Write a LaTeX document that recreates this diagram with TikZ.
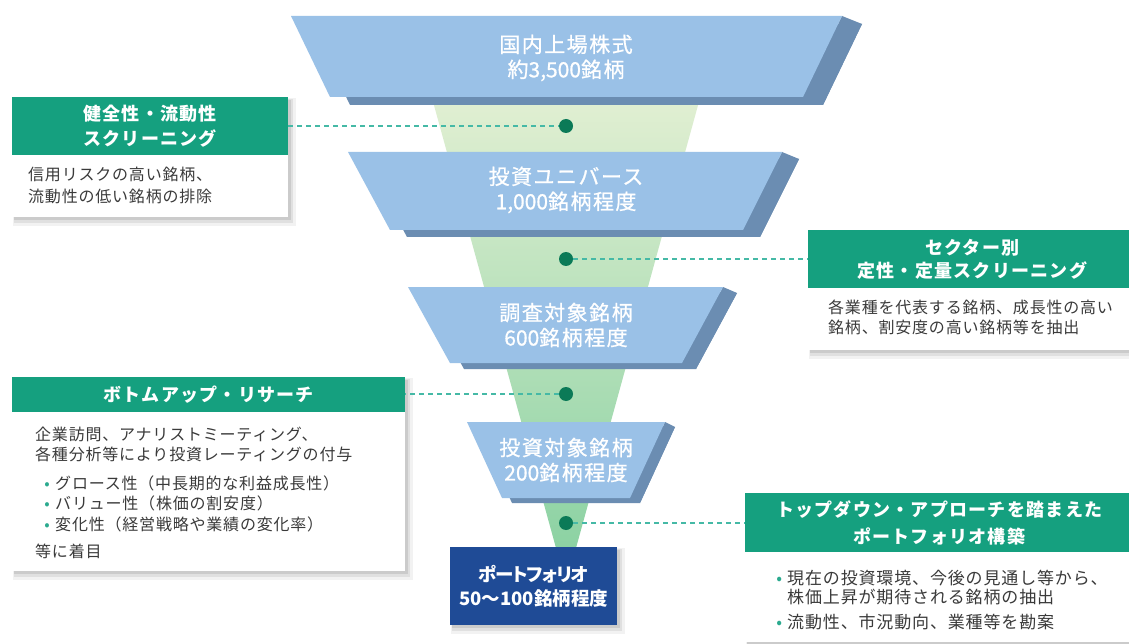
\documentclass[tikz,border=0pt]{standalone}
\usepackage{fontspec}
\newfontfamily\jpfont[LetterSpace=5]{Noto Sans CJK JP}
\newfontfamily\jptrap[LetterSpace=7,FakeBold=0.8]{Noto Sans CJK JP}
\newfontfamily\jpdig[FakeBold=0.8]{Noto Sans CJK JP}
\newfontfamily\jphdr[LetterSpace=7]{Noto Sans CJK JP}
\newfontfamily\jppal[RawFeature=+palt]{Noto Sans CJK JP}
\newfontfamily\jppaltight[RawFeature=+palt,LetterSpace=-6]{Noto Sans CJK JP}
\definecolor{faceblue}{HTML}{9AC1E7}
\definecolor{sideblue}{HTML}{6B8DB2}
\definecolor{hdrgreen}{HTML}{15A07F}
\definecolor{dotgreen}{HTML}{0B7A57}
\definecolor{dashgreen}{HTML}{45B9A6}
\definecolor{navyblue}{HTML}{1F4B96}
\definecolor{bodytext}{HTML}{3A3A3A}
\definecolor{bulgreen}{HTML}{2BAA8F}
\definecolor{funtop}{HTML}{E1EFD2}
\definecolor{funmid}{HTML}{C4E3B6}
\definecolor{funbot}{HTML}{8CD2A3}
\newcommand\trapbox[8]{%
  \fill[sideblue] (#1+#7,#5+#8) -- (#2+#7,#5+#8) -- (#4+#7,#6+#8) -- (#3+#7,#6+#8) -- cycle;
  \fill[sideblue] (#2,#5) -- (#2+#7,#5+#8) -- (#4+#7,#6+#8) -- (#4,#6) -- cycle;
  \fill[faceblue] (#1,#5) -- (#2,#5) -- (#4,#6) -- (#3,#6) -- cycle;
}
\newcommand\boxshadow[4]{%
  \fill[black,opacity=0.05] (#1+1,#2+1) rectangle (#3+8,#4+9);
  \fill[black,opacity=0.07] (#1+2,#2+2) rectangle (#3+5,#4+6);
  \fill[black,opacity=0.09] (#1+2,#2+3) rectangle (#3+3,#4+3);
}
\newcommand\dg[1]{{\jpdig #1}}
\newcommand\bul{\hspace*{4pt}\makebox[16pt][c]{\textcolor{bulgreen}{•}}}
\newcommand\bulb{\makebox[16pt][c]{\textcolor{bulgreen}{•}}}
\tikzset{
  hdr/.style={fill=hdrgreen, text=white, font=\jphdr\bfseries\fontsize{18}{25}\selectfont, align=center, inner sep=0pt, anchor=north west},
  bodybox/.style={fill=white, inner sep=0pt, anchor=north west},
  bodytxt/.style={text=bodytext, font=\jpfont\fontsize{16}{19.5}\selectfont, align=left, inner sep=0pt, anchor=north west},
  traptxt/.style={text=white, font=\jptrap\fontsize{21}{25}\selectfont, align=center, inner sep=0pt},
  dotn/.style={circle, fill=dotgreen, minimum size=14pt, inner sep=0pt},
  dashline/.style={draw=dashgreen, line width=1.5pt, dash pattern=on 5pt off 4pt},
  pfbox/.style={fill=navyblue, text=white, font=\jppal\bfseries\fontsize{18.5}{24}\selectfont, align=center, inner sep=0pt, anchor=north west},
}
\begin{document}
\begin{tikzpicture}[x=1pt,y=-1pt]
\useasboundingbox[fill=white] (0,0) rectangle (1129,644);
% funnel background
\shade[top color=funtop, middle color=funmid, bottom color=funbot] (432,98) -- (700,98) -- (576,548) -- (556,548) -- cycle;
% trapezoids
\trapbox{291}{842}{330}{803}{16}{97}{20}{8}
\node[traptxt] (t1) at (566,58) {国内上場株式\\約\dg{3,500}銘柄};
\trapbox{348}{782}{390}{743}{152}{230}{17}{7}
\node[traptxt] (t2) at (566,190) {投資ユニバース\\\dg{1,000}銘柄程度};
\trapbox{408}{723}{450}{682}{287}{363}{14}{6}
\node[traptxt] (t3) at (566,325) {調査対象銘柄\\\dg{600}銘柄程度};
\trapbox{467}{665}{502}{630}{422}{498}{10}{5}
\node[traptxt] (t4) at (566,460) {投資対象銘柄\\\dg{200}銘柄程度};
% portfolio
\boxshadow{450}{547}{617}{625}
\node[pfbox, minimum width=167pt, minimum height=78pt] (pf) at (450,547) {{\jppaltight\bfseries ポートフォリオ}\\50～100銘柄程度};
% dots
\node[dotn] (d1) at (566,126) {};
\node[dotn] (d2) at (566,259) {};
\node[dotn] (d3) at (566,394) {};
\node[dotn] (d4) at (566,523) {};
% left box 1
\boxshadow{12}{97}{288}{217}
\node[hdr, minimum width=276pt, minimum height=58pt] (h1) at (12,97) {健全性・流動性\\スクリーニング};
\node[bodybox, minimum width=276pt, minimum height=62pt] (b1) at (12,155) {};
\node[bodytxt, font=\jpfont\fontsize{16}{22}\selectfont] (bt1) at (28,167) {信用リスクの高い銘柄、\\流動性の低い銘柄の排除};
% right box 1
\boxshadow{808}{230}{1136}{350}
\node[hdr, minimum width=328pt, minimum height=58pt, font=\jphdr\bfseries\fontsize{18}{23}\selectfont] (h2) at (808,230) {セクター別\\定性・定量スクリーニング};
\node[bodybox, minimum width=328pt, minimum height=62pt] (b2) at (808,288) {};
\node[bodytxt] (bt2) at (828,300) {各業種を代表する銘柄、成長性の高い\\銘柄、割安度の高い銘柄等を抽出};
% left box 2
\boxshadow{12}{377}{405}{571}
\node[hdr, minimum width=393pt, minimum height=35pt] (h3) at (12,377) {ボトムアップ・リサーチ};
\node[bodybox, minimum width=393pt, minimum height=159pt] (b3) at (12,412) {};
\node[bodytxt, font=\jpfont\fontsize{16}{20.5}\selectfont] (bt3) at (35,426.5) {企業訪問、アナリストミーティング、\\各種分析等により投資レーティングの付与\\[8pt]\bul グロース性（中長期的な利益成長性）\\\bul バリュー性（株価の割安度）\\\bul 変化性（経営戦略や業績の変化率）\\[7pt]等に着目};
% right box 2
\boxshadow{745}{493}{1133}{642}
\node[hdr, minimum width=388pt, minimum height=59pt, font=\jphdr\bfseries\fontsize{18}{27}\selectfont] (h4) at (745,493) {トップダウン・アプローチを踏まえた\\ポートフォリオ構築};
\node[bodybox, minimum width=388pt, minimum height=90pt] (b4) at (745,552) {};
\node[bodytxt, font=\jpfont\fontsize{17}{19}\selectfont] (bt4) at (771,569.5) {\bulb 現在の投資環境、今後の見通し等から、\\\hspace*{16pt}株価上昇が期待される銘柄の抽出\\[6pt]\bulb 流動性、市況動向、業種等を勘案};
% connectors
\draw[dashline] (h1.east |- d1) -- (d1);
\draw[dashline] (d2) -- (d2 -| h2.west);
\draw[dashline] (d3) -- (d3 -| h3.east);
\draw[dashline] (d4) -- (d4 -| h4.west);
\end{tikzpicture}
\end{document}
